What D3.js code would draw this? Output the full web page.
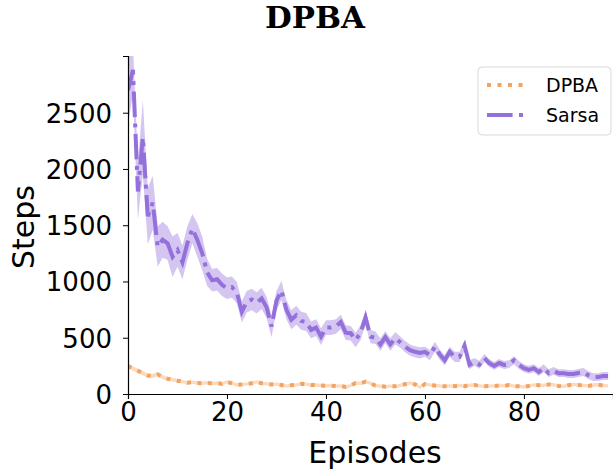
<!DOCTYPE html>
<html>
<head>
<meta charset="utf-8">
<script src="https://cdn.jsdelivr.net/npm/d3@7"></script>
<style>
  body { margin: 0; background: #fff; }
  text { font-family: "DejaVu Sans", sans-serif; }
</style>
</head>
<body>
<div id="chart"></div>
<script>
// Mean steps per episode
const sarsaMean = [2700, 2880, 1800, 2280, 1580, 1700, 1310, 1370, 1340, 1220,
    1280, 1170, 1340, 1470, 1370, 1250, 1080, 1010, 1020, 970,
    940, 950, 900, 730, 820, 840, 810, 850, 770, 600,
    830, 920, 750, 660, 700, 650, 640, 570, 590, 510,
    590, 590, 600, 640, 545, 540, 480, 545, 680, 510,
    500, 440, 505, 440, 495, 460, 420, 390, 375, 365,
    375, 345, 420, 350, 300, 375, 330, 330, 430, 260,
    285, 260, 320, 275, 250, 275, 258, 265, 300, 258,
    230, 215, 230, 195, 230, 185, 205, 185, 185, 178,
    178, 187, 195, 168, 150, 150, 160, 160];
const sarsaStd = [300, 220, 250, 330, 250, 240, 180, 160, 150, 180,
    150, 150, 150, 130, 150, 150, 120, 100, 100, 100,
    95, 95, 95, 95, 95, 95, 95, 95, 95, 95,
    85, 85, 85, 85, 85, 80, 80, 75, 75, 75,
    65, 65, 65, 65, 65, 65, 65, 65, 65, 60,
    55, 55, 55, 55, 55, 50, 50, 50, 50, 50,
    45, 45, 45, 45, 45, 45, 45, 45, 45, 40,
    35, 35, 35, 35, 35, 35, 35, 35, 35, 35,
    35, 35, 35, 35, 35, 35, 35, 35, 35, 35,
    35, 35, 35, 35, 35, 35, 35, 35];
const dpbaMean = [250, 225, 207, 185, 165, 160, 175, 150, 135, 128,
    118, 110, 100, 105, 98, 95, 100, 93, 98, 90,
    108, 95, 80, 85, 88, 95, 108, 95, 90, 85,
    88, 80, 70, 78, 80, 90, 88, 80, 80, 75,
    72, 75, 70, 72, 62, 75, 98, 95, 110, 95,
    75, 70, 65, 70, 68, 75, 88, 98, 85, 60,
    88, 80, 75, 72, 68, 72, 70, 75, 70, 78,
    80, 72, 68, 72, 70, 75, 72, 80, 70, 68,
    62, 72, 80, 78, 75, 85, 82, 72, 68, 78,
    85, 80, 75, 72, 80, 82, 75, 72];
const dpbaStd = [20, 20, 20, 20, 18, 18, 18, 18, 16, 16,
    15, 15, 15, 15, 15, 15, 15, 15, 15, 15,
    15, 15, 15, 15, 15, 15, 15, 15, 15, 15,
    15, 15, 15, 15, 15, 15, 15, 15, 15, 15,
    15, 15, 15, 15, 15, 15, 15, 15, 15, 15,
    15, 15, 15, 15, 15, 15, 15, 15, 15, 15,
    15, 15, 15, 15, 15, 15, 15, 15, 15, 15,
    15, 15, 15, 15, 15, 15, 15, 15, 15, 15,
    15, 15, 15, 15, 15, 15, 15, 15, 15, 15,
    15, 15, 15, 15, 15, 15, 15, 15];
const xTicks = [0, 20, 40, 60, 80];
const yTicks = [0, 500, 1000, 1500, 2000, 2500];
const seriesNames = ["DPBA", "Sarsa"];

// Chart dimensions
const W = 613, H = 470;
const margin = { top: 56, right: 0, bottom: 76, left: 128 };

const svg = d3.select("#chart")
    .append("svg")
    .attr("width", W)
    .attr("height", H);

// Scales
const xScale = d3.scaleLinear()
    .domain([0, 98])
    .range([margin.left, W - margin.right]);

const yScale = d3.scaleLinear()
    .domain([0, 3004])
    .range([H - margin.bottom, margin.top]);

svg.append("clipPath").attr("id", "plotclip")
    .append("rect")
    .attr("x", margin.left)
    .attr("y", margin.top)
    .attr("width", W - margin.left)
    .attr("height", H - margin.bottom - margin.top);

const plot = svg.append("g").attr("clip-path", "url(#plotclip)");

function toRows(mean, std) {
    return mean.map((m, i) => ({ ep: i, m: m, s: std[i] }));
}

const area = d3.area()
    .x(d => xScale(d.ep))
    .y0(d => yScale(d.m - d.s))
    .y1(d => yScale(d.m + d.s));

const line = d3.line()
    .x(d => xScale(d.ep))
    .y(d => yScale(d.m));

const series = [
    { name: "DPBA", rows: toRows(dpbaMean, dpbaStd), color: "#f4a460", dash: "4,6.5" },
    { name: "Sarsa", rows: toRows(sarsaMean, sarsaStd), color: "#9370db", dash: "25.6,6.4,4,6.4" }
];

// Shaded bands first, then the mean lines
series.forEach(s => {
    plot.append("path")
        .datum(s.rows)
        .attr("d", area)
        .attr("fill", s.color)
        .attr("fill-opacity", 0.4)
        .attr("stroke", "none");
});
series.forEach(s => {
    plot.append("path")
        .datum(s.rows)
        .attr("d", line)
        .attr("fill", "none")
        .attr("stroke", s.color)
        .attr("stroke-width", 4)
        .attr("stroke-dasharray", s.dash);
});

// Axes
const xAxis = svg.append("g")
    .attr("transform", "translate(0," + yScale(0) + ")")
    .call(d3.axisBottom(xScale).tickValues(xTicks).tickSize(5).tickPadding(4));
xAxis.select(".domain").attr("stroke", "#000").attr("stroke-width", 1.2);
xAxis.selectAll("text").style("font-size", "26px").attr("fill", "#000");

const yAxis = svg.append("g")
    .attr("transform", "translate(" + xScale(0) + ",0)")
    .call(d3.axisLeft(yScale).tickValues(yTicks).tickFormat(d3.format("d")).tickSize(5).tickPadding(11));
yAxis.select(".domain").attr("stroke", "#000").attr("stroke-width", 1.2);
yAxis.selectAll("text").style("font-size", "26px").attr("fill", "#000").attr("dy", "0.36em");

// Title and axis labels
svg.append("text")
    .attr("x", 315)
    .attr("y", 28)
    .attr("text-anchor", "middle")
    .style("font-family", "'DejaVu Serif', serif")
    .style("font-weight", "bold")
    .style("font-size", "29px")
    .attr("textLength", 100)
    .attr("lengthAdjust", "spacingAndGlyphs")
    .text("DPBA");

svg.append("text")
    .attr("x", 375)
    .attr("y", 463)
    .attr("text-anchor", "middle")
    .style("font-size", "30px")
    .text("Episodes");

svg.append("text")
    .attr("transform", "rotate(-90)")
    .attr("x", -227)
    .attr("y", 34)
    .attr("text-anchor", "middle")
    .style("font-size", "30px")
    .text("Steps");

// Legend
const legend = svg.append("g");
legend.append("rect")
    .attr("x", 478).attr("y", 67)
    .attr("width", 133).attr("height", 68)
    .attr("rx", 4)
    .attr("fill", "#fff").attr("fill-opacity", 0.8)
    .attr("stroke", "#d9d9d9");

series.forEach((s, i) => {
    const ly = 85 + i * 30;
    legend.append("line")
        .attr("x1", 487).attr("x2", 524)
        .attr("y1", ly).attr("y2", ly)
        .attr("stroke", s.color)
        .attr("stroke-width", 4)
        .attr("stroke-dasharray", s.dash);
    legend.append("text")
        .attr("x", 546)
        .attr("y", ly)
        .attr("dy", "0.35em")
        .style("font-size", "19px")
        .text(seriesNames[i]);
});
</script>
</body>
</html>
